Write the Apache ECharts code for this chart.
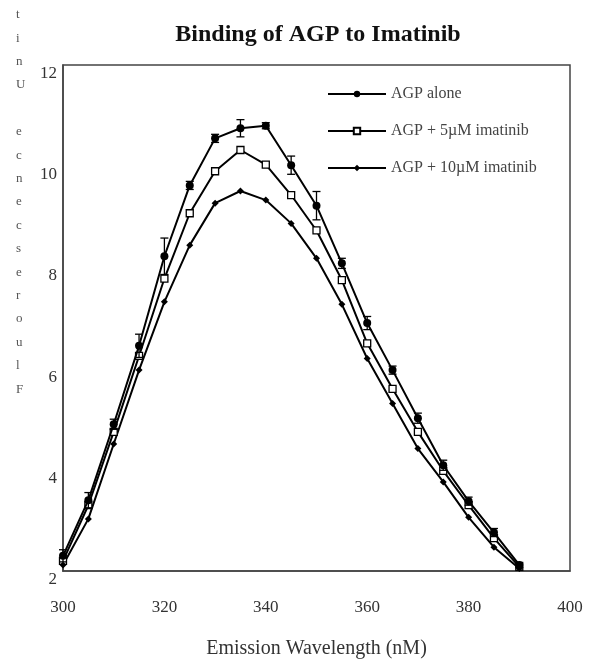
<!DOCTYPE html>
<html>
<head>
<meta charset="utf-8">
<script src="https://cdn.jsdelivr.net/npm/echarts@6/dist/echarts.min.js"></script>
<style>html,body{margin:0;padding:0;background:#fff}#c{width:594px;height:659px}</style>
</head>
<body>
<div id="c"></div>
<script>
const wavelengths = [300,305,310,315,320,325,330,335,340,345,350,355,360,365,370,375,380,385,390];
const agpAlone = [2.3,3.4,4.9,6.45,8.22,9.62,10.55,10.75,10.8,10.02,9.22,8.08,6.9,5.97,5.02,4.09,3.38,2.76,2.12];
const agpAloneErr = [0.12,0.15,0.1,0.23,0.36,0.08,0.08,0.17,0.06,0.18,0.28,0.1,0.13,0.08,0.1,0.1,0.08,0.08,0.05];
const agp5 = [2.2,3.3,4.75,6.25,7.78,9.07,9.9,10.32,10.03,9.43,8.73,7.75,6.5,5.6,4.75,3.98,3.3,2.65,2.08];
const agp10 = [2.12,3.03,4.51,5.97,7.32,8.44,9.27,9.51,9.33,8.87,8.18,7.27,6.2,5.31,4.42,3.76,3.06,2.47,2.05];
const seriesNames = ['AGP alone','AGP + 5\u00b5M imatinib','AGP + 10\u00b5M imatinib'];
const titleText = 'Binding of AGP to Imatinib';
const xTitle = 'Emission Wavelength (nM)';
const yTitle = 'tinU ecnecseroulF';

const serif = '"Liberation Serif","DejaVu Serif",serif';
const chart = echarts.init(document.getElementById('c'), null, {renderer:'canvas'});
const pair = arr => wavelengths.map((w,i)=>[w, arr[i]]);

chart.setOption({
  animation:false,
  backgroundColor:'#fff',
  grid:{left:63,right:24,top:65,bottom:88,outerBoundsMode:'none',show:true,borderColor:'#444',borderWidth:1.5,backgroundColor:'transparent'},
  legend:{
    orient:'vertical',left:322,top:81,itemWidth:58,itemHeight:8,itemGap:21,
    data:seriesNames,
    textStyle:{fontFamily:serif,fontSize:16,color:'#444'}
  },
  graphic:[{
    type:'text',x:318,y:35,
    style:{text:titleText,font:'bold 24px '+serif,fill:'#111',align:'center',verticalAlign:'middle'}
  },{
    type:'text',left:16,top:3,
    style:{text:yTitle.split('').join('\n'),font:'13px '+serif,fill:'#555',align:'center',lineHeight:23.4}
  }],
  xAxis:{
    type:'value',min:300,max:400,interval:20,
    name:xTitle,nameLocation:'middle',nameGap:68,
    nameTextStyle:{fontFamily:serif,fontSize:20,color:'#333'},
    axisLine:{show:true,lineStyle:{color:'#444',width:1.5}},
    axisTick:{show:false},splitLine:{show:false},
    axisLabel:{fontFamily:serif,fontSize:17,color:'#333',margin:28}
  },
  yAxis:{
    type:'value',min:2,max:12,interval:2,
    axisLine:{show:true,lineStyle:{color:'#444',width:1.5}},
    axisTick:{show:false},splitLine:{show:false},
    axisLabel:{fontFamily:serif,fontSize:17,color:'#333',margin:6,verticalAlign:'top'}
  },
  series:[
    {name:seriesNames[0],type:'line',data:pair(agpAlone),symbol:'circle',symbolSize:8,
     lineStyle:{color:'#000',width:2},itemStyle:{color:'#000'},z:4},
    {name:seriesNames[1],type:'line',data:pair(agp5),symbol:'rect',symbolSize:7,
     lineStyle:{color:'#000',width:2},itemStyle:{color:'#fff',borderColor:'#000',borderWidth:1.3},z:3},
    {name:seriesNames[2],type:'line',data:pair(agp10),symbol:'diamond',symbolSize:7,
     lineStyle:{color:'#000',width:2},itemStyle:{color:'#000'},z:3},
    {name:'err',type:'custom',z:5,
     data:wavelengths.map((w,i)=>[w,agpAlone[i],agpAloneErr[i]]),
     encode:{x:0,y:1},
     renderItem:function(params,api){
       const x=api.value(0),y=api.value(1),e=api.value(2);
       const t=api.coord([x,y+e]), b=api.coord([x,y-e]);
       const h=4, st={stroke:'#000',lineWidth:1.3};
       return {type:'group',children:[
         {type:'line',shape:{x1:t[0],y1:t[1],x2:b[0],y2:b[1]},style:st},
         {type:'line',shape:{x1:t[0]-h,y1:t[1],x2:t[0]+h,y2:t[1]},style:st},
         {type:'line',shape:{x1:b[0]-h,y1:b[1],x2:b[0]+h,y2:b[1]},style:st}
       ]};
     }}
  ]
});
</script>
</body>
</html>
